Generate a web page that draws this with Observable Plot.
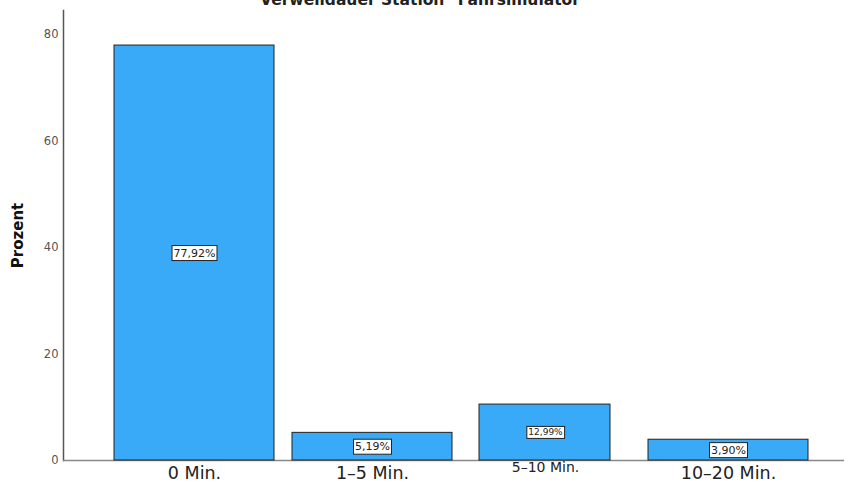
<!DOCTYPE html>
<html>
<head>
<meta charset="utf-8">
<script src="https://cdn.jsdelivr.net/npm/d3@7"></script>
<script src="https://cdn.jsdelivr.net/npm/@observablehq/plot@0.6"></script>
<style>
  html, body { margin: 0; padding: 0; background: #fff; overflow: hidden; }
  #chart svg { display: block; }
</style>
</head>
<body>
<div id="chart"></div>
<script>
const title = "Verweildauer Station \"Fahrsimulator\"";
const categories = ["0 Min.", "1\u20135 Min.", "5\u201310 Min.", "10\u201320 Min."];
// bar heights
const barHeights = [77.92, 5.19, 10.5, 3.90];
// percentage labels printed inside the bars
const labels = ["77,92%", "5,19%", "12,99%", "3,90%"];
const yTicks = [0, 20, 40, 60, 80];

const data = categories.map((c, i) => ({cat: c, h: barHeights[i], label: labels[i], i}));
const main = data.filter(d => d.i !== 2);
const third = data.filter(d => d.i === 2);

const fontFam = "'DejaVu Sans', sans-serif";

const plot = Plot.plot({
  width: 853,
  height: 486,
  marginLeft: 63,
  marginTop: 10,
  marginBottom: 26,
  marginRight: 9,
  style: {fontFamily: fontFam, background: "#fff", overflow: "visible"},
  x: {domain: categories, range: [112, 810], paddingInner: 0.1, paddingOuter: 0, axis: null},
  y: {domain: [0, 84.5], ticks: yTicks, label: null, axis: null},
  marks: [
    Plot.axisY({ticks: yTicks, tickSize: 0, tickPadding: 5, fontSize: 11.5, color: "#555", label: null}),
    Plot.frame({anchor: "left", stroke: "#555", strokeWidth: 1.5}),
    Plot.ruleY([0], {stroke: "#888", strokeWidth: 1.5}),
    Plot.barY(main, {x: "cat", y: "h", fill: "#38aaf8", stroke: "#222", strokeWidth: 1}),
    Plot.barY(third, {x: "cat", y: "h", fill: "#38aaf8", stroke: "#222", strokeWidth: 1, insetLeft: 9, insetRight: 20}),
    Plot.text(main, {x: "cat", y: d => d.h / 2, text: "label", fontSize: 11, fill: "#222", className: "boxlabel"}),
    Plot.text(third, {x: "cat", y: d => d.h / 2, text: "label", fontSize: 9, fill: "#222", dx: -5, className: "boxlabel"}),
    Plot.text(main, {x: "cat", text: "cat", frameAnchor: "bottom", lineAnchor: "top", dy: 6, fontSize: 17.5, fill: "#222"}),
    Plot.text(third, {x: "cat", text: "cat", frameAnchor: "bottom", lineAnchor: "top", dy: 2, dx: -5, fontSize: 14, fill: "#222"}),
    Plot.text(["Prozent"], {frameAnchor: "left", textAnchor: "middle", dx: -45, rotate: -90, text: d => d, fontSize: 15, fontWeight: "bold", fill: "#111"}),
    Plot.text([title], {frameAnchor: "top", lineAnchor: "bottom", dy: -6, dx: -30, text: d => d, fontSize: 15.5, fontWeight: "bold", fill: "#222"})
  ]
});

document.getElementById("chart").appendChild(plot);

const ns = "http://www.w3.org/2000/svg";
// draw white boxes behind the bar labels
for (const g of plot.querySelectorAll("g.boxlabel")) {
  for (const t of g.querySelectorAll("text")) {
    const b = t.getBBox();
    const r = document.createElementNS(ns, "rect");
    r.setAttribute("x", b.x - 1.5);
    r.setAttribute("y", b.y - 1);
    r.setAttribute("width", b.width + 3);
    r.setAttribute("height", b.height + 2);
    r.setAttribute("fill", "#fff");
    r.setAttribute("stroke", "#222");
    r.setAttribute("stroke-width", 1);
    const tr = t.getAttribute("transform");
    if (tr) r.setAttribute("transform", tr);
    t.parentNode.insertBefore(r, t);
  }
}
</script>
</body>
</html>
